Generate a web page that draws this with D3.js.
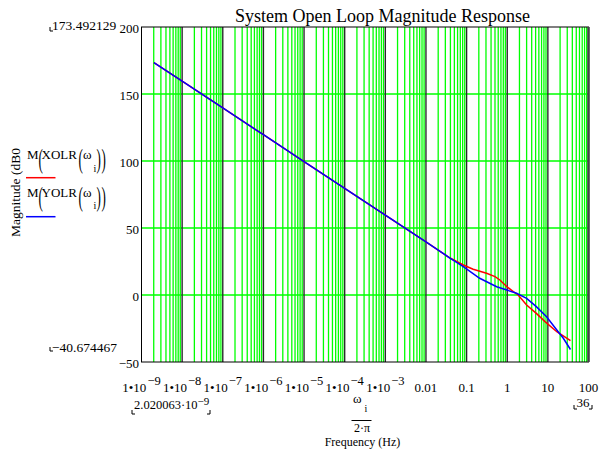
<!DOCTYPE html>
<html>
<head>
<meta charset="utf-8">
<script src="https://cdn.jsdelivr.net/npm/d3@7"></script>
<style>
  body { margin: 0; background: #fff; }
  svg { font-family: "Liberation Serif", "Times New Roman", serif; }
</style>
</head>
<body>
<div id="chart"></div>
<script>
//Values (frequency in Hz, magnitude in dB)
var xolrFreq = [2.020063e-9, 1e-8, 1e-7, 1e-6, 1e-5, 1e-4, 1e-3, 0.01, 0.039, 0.083, 0.145, 0.31, 0.50, 0.66, 0.98, 1.41, 1.86, 3.0, 5.2, 8.5, 16.6, 36];
var xolrMag  = [173.49, 159.6, 139.6, 119.6, 99.6, 79.6, 59.6, 39.6, 27.6, 22.4, 19.2, 16.2, 13.7, 11.2, 6.2, 2.5, 0, -7.5, -13.7, -19.9, -27.4, -34.0];
var yolrFreq = [2.020063e-9, 1e-8, 1e-7, 1e-6, 1e-5, 1e-4, 1e-3, 0.01, 0.039, 0.083, 0.21, 0.55, 0.98, 1.70, 3.0, 5.2, 9.3, 16.6, 24, 36];
var yolrMag  = [173.49, 159.6, 139.6, 119.6, 99.6, 79.6, 59.6, 39.6, 27.6, 21.1, 12.5, 6.2, 3.7, 1.3, -2.5, -8.7, -16.2, -26.1, -32.3, -40.67];

var seriesNames = ["XOLR", "YOLR"];
var seriesColors = ["#ff0000", "#0000ff"];

//Tick values and labels ("^" marks the exponent)
var xTickVals = [1e-9, 1e-8, 1e-7, 1e-6, 1e-5, 1e-4, 1e-3, 0.01, 0.1, 1, 10, 100];
var xTickText = ["1\u202210^\u22129", "1\u202210^\u22128", "1\u202210^\u22127", "1\u202210^\u22126", "1\u202210^\u22125",
                 "1\u202210^\u22124", "1\u202210^\u22123", "0.01", "0.1", "1", "10", "100"];
var yTickVals = [-50, 0, 50, 100, 150, 200];
var yTickText = ["\u221250", "0", "50", "100", "150", "200"];

//Margin convention
var margin = {top: 27, right: 13.5, bottom: 95, left: 141.5},
    width = 602 - margin.left - margin.right,
    height = 457 - margin.top - margin.bottom;

var svg = d3.select('#chart').append('svg')
    .attr('width', 602)
    .attr('height', 457);

var plot = svg.append('g')
    .attr('transform', 'translate(' + margin.left + ',' + margin.top + ')');

var x = d3.scaleLog().domain([1e-9, 100]).range([0, width]);
var y = d3.scaleLinear().domain([-50, 200]).range([height, 0]);

//Grid: green lines for 2..9 in each decade, dark lines at the decades
var minorVals = [];
for (var e = -9; e <= 1; e++) {
  for (var k = 2; k <= 9; k++) minorVals.push(k * Math.pow(10, e));
}
plot.selectAll('.minor').data(minorVals)
  .enter().append('line')
    .attr('class', 'minor')
    .attr('x1', function(d) {return x(d);})
    .attr('x2', function(d) {return x(d);})
    .attr('y1', 0).attr('y2', height)
    .style('stroke', '#00ff00')
    .style('stroke-width', 1.3);

plot.selectAll('.hgrid').data([0, 50, 100, 150])
  .enter().append('line')
    .attr('class', 'hgrid')
    .attr('x1', 0).attr('x2', width)
    .attr('y1', function(d) {return y(d);})
    .attr('y2', function(d) {return y(d);})
    .style('stroke', '#00ff00')
    .style('stroke-width', 1.3);

plot.selectAll('.major').data(xTickVals.slice(1, -1))
  .enter().append('line')
    .attr('class', 'major')
    .attr('x1', function(d) {return x(d);})
    .attr('x2', function(d) {return x(d);})
    .attr('y1', 0).attr('y2', height)
    .style('stroke', '#2a2a2a')
    .style('stroke-width', 1.4);

//Frame
plot.append('rect')
    .attr('width', width).attr('height', height)
    .style('fill', 'none')
    .style('stroke', '#000')
    .style('stroke-width', 1);
plot.append('line')
    .attr('x1', width).attr('x2', width)
    .attr('y1', 0).attr('y2', height)
    .style('stroke', '#444')
    .style('stroke-width', 2.6);

//Traces
var line = d3.line()
    .x(function(d) {return x(d[0]);})
    .y(function(d) {return y(d[1]);});

var traces = [d3.zip(xolrFreq, xolrMag), d3.zip(yolrFreq, yolrMag)];
plot.selectAll('.trace').data(traces)
  .enter().append('path')
    .attr('class', 'trace')
    .attr('d', line)
    .style('fill', 'none')
    .style('stroke', function(d, i) {return seriesColors[i];})
    .style('stroke-width', 1.5);

//Y tick labels
plot.selectAll('.ylab').data(yTickVals)
  .enter().append('text')
    .attr('class', 'ylab')
    .attr('x', -2.5)
    .attr('y', function(d) {return y(d) + 5.5;})
    .attr('text-anchor', 'end')
    .style('font-size', '13px')
    .text(function(d, i) {return yTickText[i];});

//X tick labels with exponents
var xlab = plot.selectAll('.xlab').data(xTickVals)
  .enter().append('text')
    .attr('class', 'xlab')
    .attr('x', function(d) {return x(d);})
    .attr('y', height + 30)
    .attr('text-anchor', 'middle')
    .style('font-size', '13px');
xlab.each(function(d, i) {
  var parts = xTickText[i].split('^');
  var t = d3.select(this);
  t.append('tspan').text(parts[0]);
  if (parts.length > 1) {
    t.append('tspan').attr('dy', -7).attr('dx', 1).style('font-size', '12.5px').text(parts[1]);
  }
});

//Title
svg.append('text')
    .attr('x', 382.5).attr('y', 22)
    .attr('text-anchor', 'middle')
    .style('font-size', '18px')
    .text('System Open Loop Magnitude Response');

//Y axis title
svg.append('text')
    .attr('transform', 'translate(19.5,192.5) rotate(-90)')
    .attr('text-anchor', 'middle')
    .style('font-size', '13.5px')
    .text('Magnitude (dB0');

//Limit readouts with their corner marks
function corner(px, py, dir) {
  svg.append('path')
      .attr('d', 'M' + px + ',' + (py - 4) + 'V' + py + 'h' + (3 * dir))
      .style('fill', 'none')
      .style('stroke', '#000')
      .style('stroke-width', 1);
}
svg.append('text').attr('x', 52).attr('y', 29.5).style('font-size', '13.5px').text('173.492129');
corner(50, 31, 1);
svg.append('text').attr('x', 52).attr('y', 351.5).style('font-size', '13.5px').text('\u221240.674467');
corner(50, 351, 1);

var xmin = svg.append('text').attr('x', 134).attr('y', 409).style('font-size', '12.5px');
xmin.append('tspan').text('2.020063\u00b710');
xmin.append('tspan').attr('dy', -4).style('font-size', '11px').text('\u22129');
corner(132, 414, 1);
corner(210, 414, -1);

svg.append('text').attr('x', 583).attr('y', 407).attr('text-anchor', 'middle').style('font-size', '13px').text('36');
corner(574, 409, 1);
corner(592, 409, -1);

//X axis title: omega_i over 2*pi, then the unit line
var xt = svg.append('g');
xt.append('text').attr('x', 353).attr('y', 403).style('font-size', '13px').text('\u03c9');
xt.append('text').attr('x', 364.5).attr('y', 412).style('font-size', '10px').text('i');
xt.append('line')
    .attr('x1', 351.5).attr('x2', 371.5)
    .attr('y1', 420.5).attr('y2', 420.5)
    .style('stroke', '#000').style('stroke-width', 1);
xt.append('text').attr('x', 362).attr('y', 431.5).attr('text-anchor', 'middle').style('font-size', '12px').text('2\u00b7\u03c0');
xt.append('text').attr('x', 362.5).attr('y', 446).attr('text-anchor', 'middle').style('font-size', '12px').text('Frequency (Hz)');

//Legend: M(XOLR(w_i)) with a line sample under each entry
var legendBase = [159, 196.8];
var legendLineY = [177.7, 216.7];
seriesNames.forEach(function(name, i) {
  var g = svg.append('g');
  var b = legendBase[i];
  g.append('text').attr('x', 27).attr('y', b).style('font-size', '13px').text('M');
  g.append('text').attr('x', 41.5).attr('y', b).style('font-size', '13px').text(name);
  g.append('text').attr('x', 83).attr('y', b).style('font-size', '13px').text('\u03c9');
  g.append('text').attr('x', 93.5).attr('y', b + 12.5).style('font-size', '10px').text('i');
  //stretched brackets
  [[38.5, '('], [78.5, '('], [96.5, ')'], [101.5, ')']].forEach(function(p) {
    g.append('text')
        .attr('transform', 'translate(' + p[0] + ',' + (b + 9) + ') scale(1,2.1)')
        .style('font-size', '13px')
        .text(p[1]);
  });
  g.append('line')
      .attr('x1', 26).attr('x2', 55.5)
      .attr('y1', legendLineY[i]).attr('y2', legendLineY[i])
      .style('stroke', seriesColors[i])
      .style('stroke-width', 1.5);
});
</script>
</body>
</html>
